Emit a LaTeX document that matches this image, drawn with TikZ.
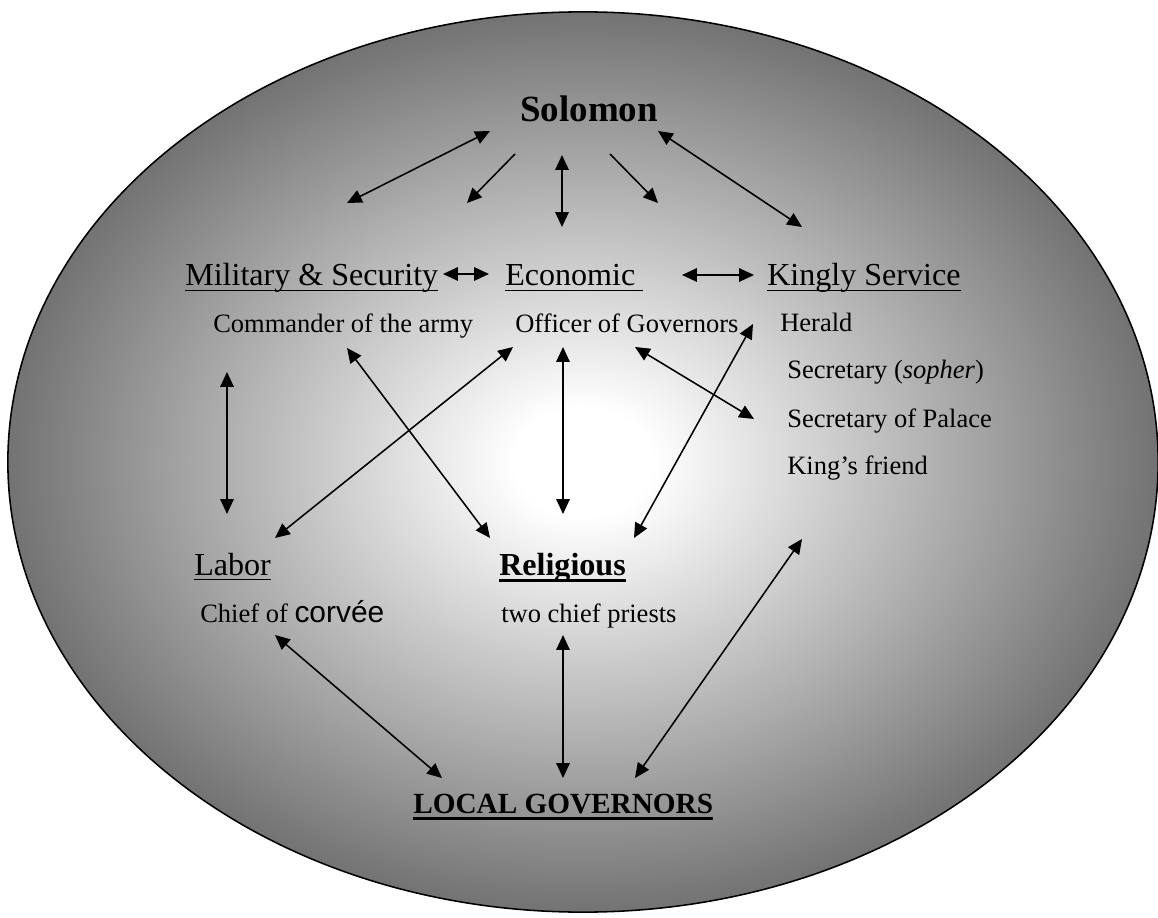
\documentclass[tikz,border=0pt]{standalone}
\usepackage{fontspec}
\setmainfont{Liberation Serif}
\newfontfamily\arialfont{Liberation Sans}
\usepackage{tikz}
\usetikzlibrary{arrows.meta, shadings}

\newcommand{\kingfont}{\fontsize{26.3pt}{30pt}\selectfont\bfseries}
\newcommand{\headfont}{\fontsize{22.8pt}{27pt}\selectfont}
\newcommand{\subfont}{\fontsize{18.85pt}{22pt}\selectfont}
\newcommand{\localfont}{\fontsize{20.8pt}{25pt}\selectfont\bfseries}
\newcommand{\hdline}[1]{\setbox0\hbox{#1}\rlap{\rule[-0.17em]{\wd0}{0.05em}}\box0}
\newcommand{\bdline}[1]{\setbox0\hbox{#1}\rlap{\rule[-0.23em]{\wd0}{0.1em}}\box0}

\pgfdeclareradialshading{govshade}{\pgfpoint{0bp}{0bp}}{color(0bp)=(white); color(3bp)=(white); color(25bp)=(black!55); color(50bp)=(black!55)}

\tikzset{
	lbl/.style={
			anchor=base west,
			inner sep=0pt,
			font=\subfont
		},
	headlbl/.style={
			lbl,
			font=\headfont
		},
	link/.style={
			line width=1.1pt,
			{Triangle[length=10.5pt,width=9.5pt]}-{Triangle[length=10.5pt,width=9.5pt]}
		},
	oneway/.style={
			line width=1.1pt,
			-{Triangle[length=10.5pt,width=9.5pt]}
		}
}

\begin{document}
\begin{tikzpicture}[x=0.025cm, y=-0.025cm]
\useasboundingbox (0,0) rectangle (1158,918);

% the court
\shade[shading=govshade, draw=black, line width=1.1pt] (583,462) ellipse [x radius=14.375cm, y radius=11.25cm];

\node[lbl, font=\kingfont] (sol) at (520,122) {Solomon};

\node[headlbl] (mil) at (185,286) {\hdline{Military \& Security}};
\node[headlbl] (eco) at (505,286) {\hdline{Economic\ }};
\node[headlbl] (king) at (767,286) {\hdline{Kingly Service}};

\node[lbl] (cmd) at (213,333) {Commander of the army};
\node[lbl] (off) at (515,333) {Officer of Governors};
\node[lbl] (her) at (780,332) {Herald};
\node[lbl] (sec) at (787,379) {Secretary (\textit{sopher})};
\node[lbl] (pal) at (787,428) {Secretary of Palace};
\node[lbl] (fri) at (787,475) {King’s friend};

\node[headlbl] (lab) at (194,575) {\hdline{Labor}};
\node[headlbl] (rel) at (499,575) {\bfseries\bdline{Religious}};
\node[lbl] (chf) at (200,622) {Chief of {\arialfont\fontsize{21.3pt}{25pt}\selectfont corvée}};
\node[lbl] (pri) at (501,622) {two chief priests};

\node[lbl, font=\localfont] (loc) at (413,813) {\bdline{LOCAL GOVERNORS}};

% arrow ends
\coordinate (s1) at (490,131);  \coordinate (t1) at (347,203);
\coordinate (s2) at (515,154);  \coordinate (t2) at (467,203);
\coordinate (s3) at (562,155);  \coordinate (t3) at (562,227);
\coordinate (s4) at (610,154);  \coordinate (t4) at (658,203);
\coordinate (s5) at (658,131);  \coordinate (t5) at (802,227);
\coordinate (me1) at (443,274); \coordinate (me2) at (489,274);
\coordinate (ek1) at (682,275); \coordinate (ek2) at (754,275);
\coordinate (ml1) at (227,372); \coordinate (ml2) at (227,514);
\coordinate (cr1) at (347,348); \coordinate (cr2) at (490,538);
\coordinate (lo1) at (275,538); \coordinate (lo2) at (513,347);
\coordinate (er1) at (563,347); \coordinate (er2) at (563,514);
\coordinate (op1) at (635,347); \coordinate (op2) at (754,419);
\coordinate (hr1) at (753,324); \coordinate (hr2) at (634,538);
\coordinate (ll1) at (275,635); \coordinate (ll2) at (442,778);
\coordinate (rl1) at (563,635); \coordinate (rl2) at (563,778);
\coordinate (kl1) at (635,778); \coordinate (kl2) at (802,539);

\draw[link] (s1) -- (t1);
\draw[oneway] (s2) -- (t2);
\draw[link] (s3) -- (t3);
\draw[oneway] (s4) -- (t4);
\draw[link] (s5) -- (t5);

\draw[link] (me1) -- (me2);
\draw[link] (ek1) -- (ek2);

\draw[link] (ml1) -- (ml2);
\draw[link] (cr1) -- (cr2);
\draw[link] (lo1) -- (lo2);
\draw[link] (er1) -- (er2);
\draw[link] (op1) -- (op2);
\draw[link] (hr1) -- (hr2);

\draw[link] (ll1) -- (ll2);
\draw[link] (rl1) -- (rl2);
\draw[link] (kl1) -- (kl2);

\end{tikzpicture}
\end{document}
